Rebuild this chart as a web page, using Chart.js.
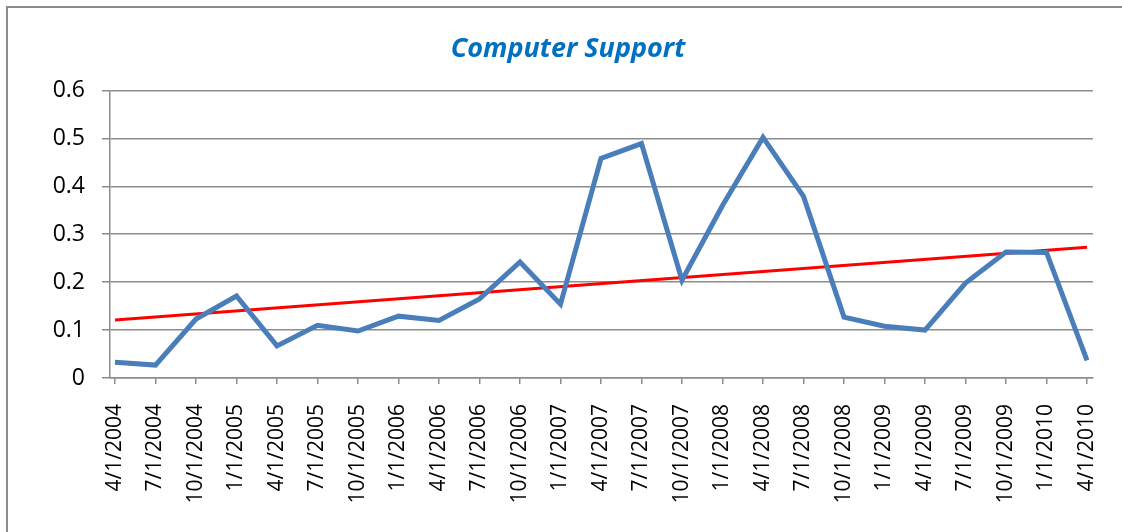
<!DOCTYPE html>
<html>
<head>
<meta charset="utf-8">
<script src="https://cdn.jsdelivr.net/npm/chart.js@4/dist/chart.umd.min.js"></script>
<style>
  html, body { margin:0; padding:0; background:#fff; overflow:hidden; }
  #wrap { position:absolute; left:0; top:0; width:1122px; height:532px; }
</style>
</head>
<body>
<div id="wrap"><canvas id="supportChart" width="1122" height="532"></canvas></div>
<script>
const quarters = ['4/1/2004','7/1/2004','10/1/2004','1/1/2005','4/1/2005','7/1/2005','10/1/2005',
  '1/1/2006','4/1/2006','7/1/2006','10/1/2006','1/1/2007','4/1/2007','7/1/2007','10/1/2007',
  '1/1/2008','4/1/2008','7/1/2008','10/1/2008','1/1/2009','4/1/2009','7/1/2009','10/1/2009',
  '1/1/2010','4/1/2010'];
const support = [0.033,0.027,0.123,0.171,0.067,0.110,0.098,0.129,0.120,0.165,0.242,0.154,
  0.458,0.489,0.204,0.360,0.502,0.379,0.127,0.108,0.100,0.198,0.263,0.262,0.037];
// trend line end points (first and last quarter)
const trendIdx = [0, 24];
const trendVals = [0.121, 0.273];
const yTicks = [0,0.1,0.2,0.3,0.4,0.5,0.6];

const gridGrey = '#8c8c8c';
const font = "'Open Sans', 'Liberation Sans', sans-serif";

// outer chart frame (only left and top edges are inside the picture)
const framePlugin = {
  id: 'frame',
  beforeDraw(chart) {
    const c = chart.ctx;
    c.save();
    c.strokeStyle = gridGrey;
    c.lineWidth = 2;
    c.beginPath();
    c.moveTo(7, chart.height + 5);
    c.lineTo(7, 7);
    c.lineTo(chart.width + 5, 7);
    c.stroke();
    c.restore();
  }
};

new Chart(document.getElementById('supportChart'), {
  type: 'line',
  data: {
    datasets: [{
      label: 'Computer Support',
      data: support.map((v,i)=>({x:i, y:v})),
      borderColor: '#4a7ebb',
      borderWidth: 5,
      pointRadius: 0,
      tension: 0
    },{
      label: 'Trend',
      data: trendIdx.map((x,i)=>({x:x, y:trendVals[i]})),
      borderColor: '#ff0000',
      borderWidth: 3,
      pointRadius: 0
    }]
  },
  plugins: [framePlugin],
  options: {
    responsive: false,
    animation: false,
    layout: { padding: { left:43, right:29, top:0, bottom:0 } },
    plugins: {
      legend: { display:false },
      tooltip: { enabled:false },
      title: {
        display: true,
        text: 'Computer Support',
        color: '#0070c0',
        font: { family:font, size:27, style:'italic', weight:'bold', lineHeight:1.2 },
        padding: { top:33, bottom:25 }
      }
    },
    scales: {
      x: {
        type: 'linear',
        min: -0.123,
        max: 24.148,
        afterBuildTicks: s => { s.ticks = quarters.map((q,i)=>({value:i})); },
        afterFit: s => { s.height = 154; s.paddingLeft = 0; s.paddingRight = 0; },
        ticks: {
          autoSkip: false,
          minRotation: 90,
          maxRotation: 90,
          padding: 20,
          color: '#000',
          font: { family:font, size:21 },
          callback: v => quarters[v]
        },
        grid: { drawOnChartArea:false, color:gridGrey, lineWidth:1.5, tickLength:6 },
        border: { color:gridGrey, width:1.5 }
      },
      y: {
        min: 0,
        max: 0.6,
        afterBuildTicks: s => { s.ticks = yTicks.map(v=>({value:v})); },
        afterFit: s => { s.width = 67; },
        ticks: {
          padding: 17,
          color: '#000',
          font: { family:font, size:23 },
          callback: v => String(Math.round(v*10)/10)
        },
        grid: { color:gridGrey, lineWidth:1.5, tickLength:8 },
        border: { color:gridGrey, width:1.5 }
      }
    }
  }
});
</script>
</body>
</html>
